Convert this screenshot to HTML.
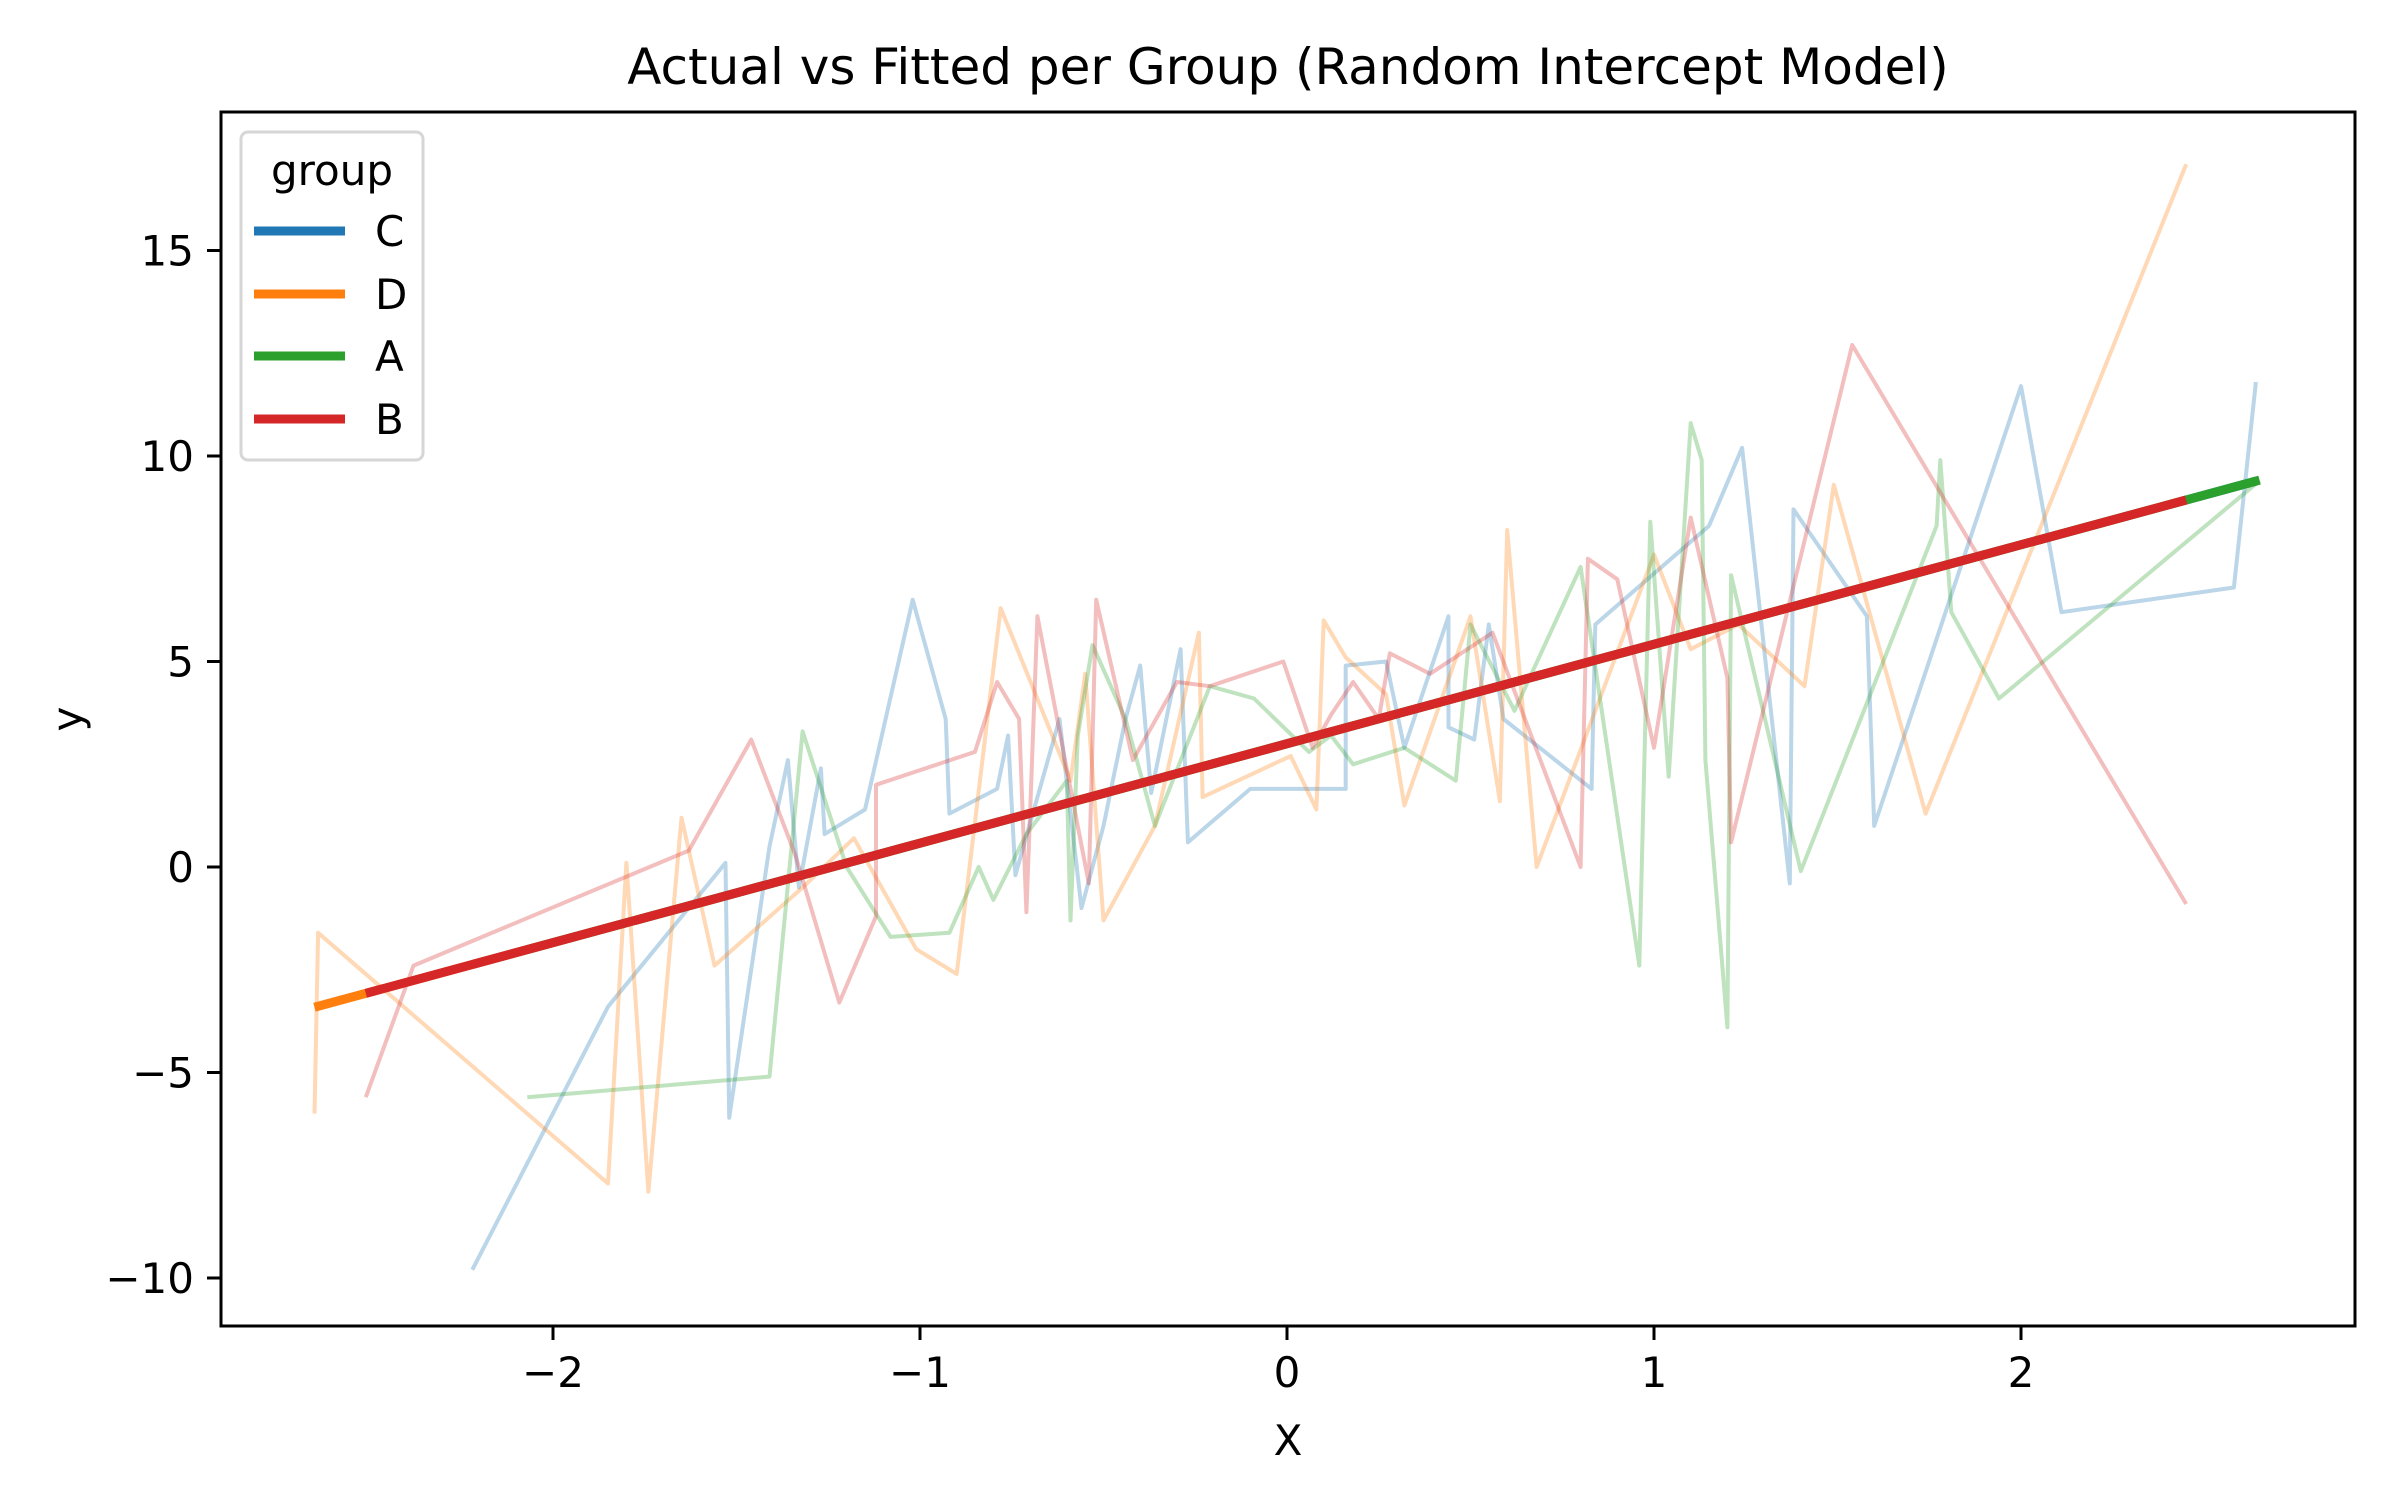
<!DOCTYPE html>
<html><head><meta charset="utf-8"><style>
html,body{margin:0;padding:0;background:#fff;}
svg{display:block;font-family:"DejaVu Sans","Liberation Sans",sans-serif;}
</style></head><body>
<svg id="chart" width="2400" height="1500" viewBox="0 0 2400 1500" xmlns="http://www.w3.org/2000/svg">
<text x="1288" y="84" font-size="50" text-anchor="middle">Actual vs Fitted per Group (Random Intercept Model)</text>
<g id="plot"></g>
<rect x="221" y="112" width="2134" height="1214" fill="none" stroke="#000" stroke-width="3"/>
<g id="ticks"></g>
<text x="1288" y="1455" font-size="42" text-anchor="middle">X</text>
<text x="82" y="719" font-size="42" text-anchor="middle" transform="rotate(-90 82 719)">y</text>
<g id="legend">
<rect x="241" y="132" width="182" height="328" rx="7" fill="#fff" fill-opacity="0.8" stroke="#d6d6d6" stroke-width="3"/>
<text x="332" y="185" font-size="42" text-anchor="middle">group</text>
</g>
</svg>
<script>
const groups = ['C','D','A','B'];
const colors = ['#1f77b4','#ff7f0e','#2ca02c','#d62728'];
const xTicks = [-2,-1,0,1,2];
const yTicks = [-10,-5,0,5,10,15];
const fitSlope = 2.42;
const fitIntercept = 3.0;
const fitRangeC = [-2.22, 2.64];
const fitRangeD = [-2.65, 2.45];
const fitRangeA = [-2.07, 2.65];
const fitRangeB = [-2.51, 2.45];
const xC = [-2.22,-1.85,-1.53,-1.52,-1.41,-1.36,-1.33,-1.27,-1.26,-1.15,-1.02,-0.93,-0.92,-0.79,-0.76,-0.74,-0.62,-0.56,-0.5,-0.44,-0.40,-0.37,-0.29,-0.27,-0.10,0.16,0.16,0.27,0.32,0.44,0.44,0.51,0.55,0.59,0.83,0.84,1.15,1.24,1.37,1.38,1.58,1.60,2.0,2.11,2.58,2.64];
const yC = [-9.8,-3.4,0.1,-6.1,0.5,2.6,-0.5,2.4,0.8,1.4,6.5,3.6,1.3,1.9,3.2,-0.2,3.6,-1.0,1.0,3.6,4.9,1.8,5.3,0.6,1.9,1.9,4.9,5.0,2.9,6.1,3.4,3.1,5.9,3.6,1.9,5.9,8.3,10.2,-0.4,8.7,6.1,1.0,11.7,6.2,6.8,11.8];
const xD = [-2.65,-2.64,-1.85,-1.80,-1.74,-1.65,-1.56,-1.32,-1.18,-1.01,-0.90,-0.78,-0.59,-0.55,-0.50,-0.36,-0.24,-0.23,0.01,0.08,0.10,0.16,0.27,0.32,0.50,0.58,0.60,0.68,1.0,1.10,1.23,1.41,1.49,1.74,2.45];
const yD = [-6.0,-1.6,-7.7,0.1,-7.9,1.2,-2.4,-0.5,0.7,-2.0,-2.6,6.3,2.1,4.7,-1.3,1.0,5.7,1.7,2.7,1.4,6.0,5.1,4.2,1.5,6.1,1.6,8.2,0.0,7.6,5.3,5.9,4.4,9.3,1.3,17.1];
const xA = [-2.07,-1.41,-1.32,-1.20,-1.08,-0.92,-0.84,-0.80,-0.71,-0.60,-0.59,-0.57,-0.53,-0.44,-0.36,-0.21,-0.09,0.06,0.12,0.18,0.32,0.46,0.50,0.62,0.80,0.96,0.99,1.04,1.10,1.13,1.14,1.20,1.21,1.40,1.77,1.78,1.81,1.94,2.65];
const yA = [-5.6,-5.1,3.3,0.0,-1.7,-1.6,0.0,-0.8,0.8,2.1,-1.3,3.2,5.4,3.6,1.0,4.4,4.1,2.8,3.2,2.5,2.9,2.1,5.9,3.8,7.3,-2.4,8.4,2.2,10.8,9.9,2.6,-3.9,7.1,-0.1,8.3,9.9,6.2,4.1,9.4];
const xB = [-2.51,-2.38,-1.63,-1.46,-1.34,-1.22,-1.12,-1.12,-0.85,-0.79,-0.73,-0.71,-0.68,-0.54,-0.52,-0.42,-0.30,-0.21,-0.01,0.07,0.12,0.18,0.25,0.28,0.39,0.56,0.80,0.82,0.90,1.0,1.10,1.20,1.21,1.54,2.45];
const yB = [-5.6,-2.4,0.4,3.1,0.3,-3.3,-1.2,2.0,2.8,4.5,3.6,-1.1,6.1,-0.4,6.5,2.6,4.5,4.4,5.0,2.9,3.7,4.5,3.6,5.2,4.7,5.7,0.0,7.5,7.0,2.9,8.5,4.6,0.6,12.7,-0.9];

const xs = [xC,xD,xA,xB];
const ys = [yC,yD,yA,yB];
const fitRanges = [fitRangeC,fitRangeD,fitRangeA,fitRangeB];
const NS='http://www.w3.org/2000/svg';
function sx(v){return 1287 + v*367;}
function sy(v){return 867 - v*41.1;}
const plot=document.getElementById('plot');
const ticks=document.getElementById('ticks');
const legend=document.getElementById('legend');
function mk(tag,attrs,parent){const e=document.createElementNS(NS,tag);for(const k in attrs)e.setAttribute(k,attrs[k]);parent.appendChild(e);return e;}

for(let g=0;g<groups.length;g++){
  const pts=xs[g].map((x,i)=>sx(x).toFixed(1)+','+sy(ys[g][i]).toFixed(1)).join(' ');
  const pl=mk('polyline',{points:pts,fill:'none',stroke:colors[g],'stroke-opacity':0.3,'stroke-width':4,'stroke-linejoin':'round'},plot);
  
  
}
for(let g=0;g<groups.length;g++){
  const r=fitRanges[g];
  const ln=mk('line',{x1:sx(r[0]),y1:sy(fitIntercept+fitSlope*r[0]),x2:sx(r[1]),y2:sy(fitIntercept+fitSlope*r[1]),stroke:colors[g],'stroke-width':9},plot);
  
  
}
xTicks.forEach(t=>{
  const l=mk('line',{x1:sx(t),x2:sx(t),y1:1326,y2:1340,stroke:'#000','stroke-width':3},ticks);
  
  
  const tx=mk('text',{x:sx(t),y:1387,'font-size':42,'text-anchor':'middle'},ticks);
  tx.textContent=t<0?'\u2212'+(-t):String(t);
  
  
});
yTicks.forEach(t=>{
  const l=mk('line',{x1:207,x2:221,y1:sy(t),y2:sy(t),stroke:'#000','stroke-width':3},ticks);
  
  
  const tx=mk('text',{x:194,y:sy(t)+15,'font-size':42,'text-anchor':'end'},ticks);
  tx.textContent=t<0?'\u2212'+(-t):String(t);
  
  
});
const legY=[231,294,356,419];
for(let g=0;g<groups.length;g++){
  const l=mk('line',{x1:254,x2:345,y1:legY[g],y2:legY[g],stroke:colors[g],'stroke-width':9},legend);
  
  
  const tx=mk('text',{x:375,y:legY[g]+15,'font-size':42},legend);
  tx.textContent=groups[g];
  
  
}
</script>
</body></html>
